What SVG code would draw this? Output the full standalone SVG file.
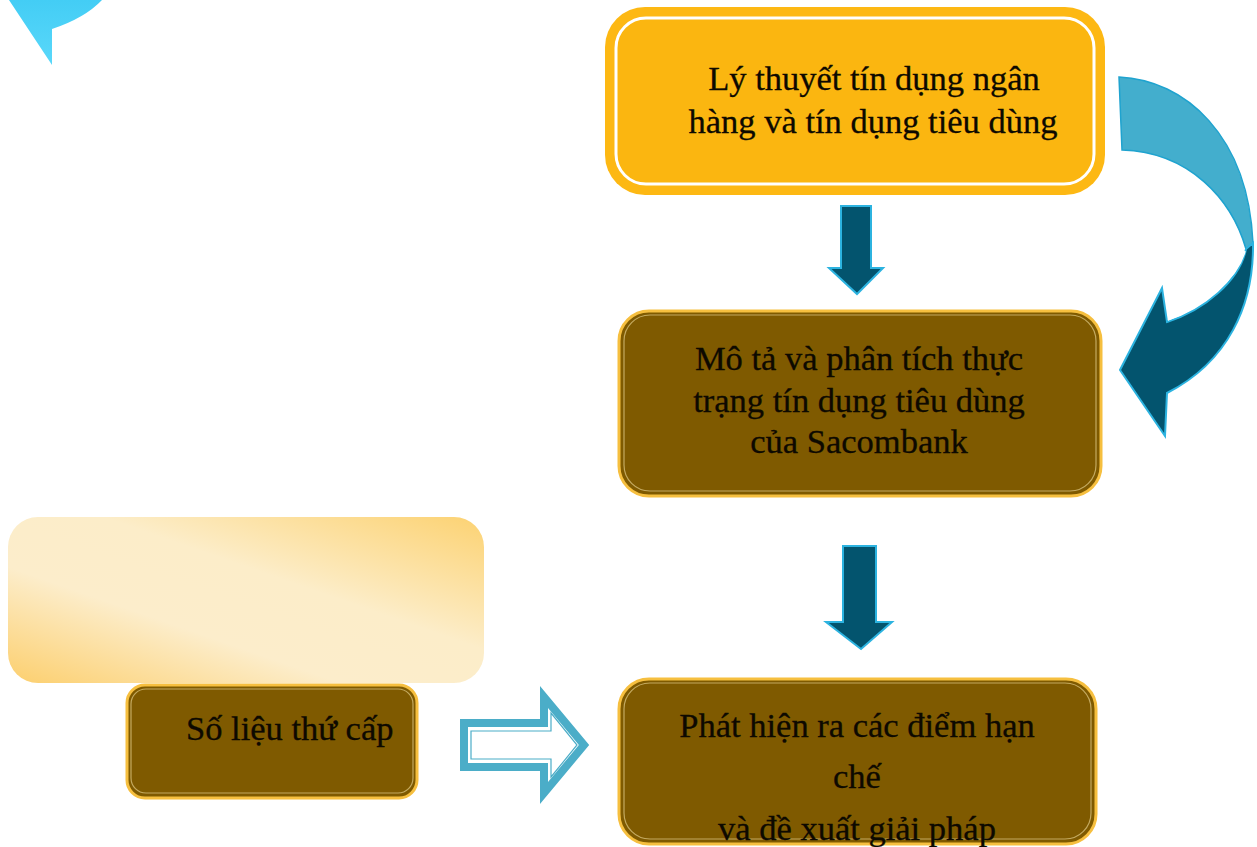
<svg xmlns="http://www.w3.org/2000/svg" width="1257" height="847" viewBox="0 0 1257 847">
<defs>
<linearGradient id="gold" x1="0" y1="1" x2="1" y2="0">
<stop offset="0" stop-color="#FCCF6E"/>
<stop offset="0.35" stop-color="#FCEDCB"/>
<stop offset="0.6" stop-color="#FCEDC9"/>
<stop offset="1" stop-color="#FCD272"/>
</linearGradient>
<linearGradient id="cyan" x1="0" y1="0" x2="0" y2="1">
<stop offset="0" stop-color="#43CDF5"/>
<stop offset="1" stop-color="#5AD8FA"/>
</linearGradient>
<style>
.t{font-family:"Liberation Serif","Times New Roman",serif;font-size:34.5px;fill:#0d0900;stroke:#0d0900;stroke-width:0.3;text-anchor:middle}
.brown{fill:#7F5A00;stroke:#F6BF3F;stroke-width:3}
.hl{fill:none;stroke:#F2DFA0;stroke-width:1.2;opacity:0.6}
.down{fill:#03546E;stroke:#2CB3E0;stroke-width:2;stroke-linejoin:miter}
</style>
</defs>
<rect width="1257" height="847" fill="#ffffff"/>
<path d="M9,0 L52,65 L52,29 Q85,18 102,0 Z" fill="url(#cyan)"/>
<g id="connectors">
<polygon class="down" points="841,206 871,206 871,268 883,268 857,294 829,268 841,268"/>
<polygon class="down" points="843,546 876,546 876,622 892,622 861,649 826,622 843,622"/>
<path d="M1119,77 C1185,80 1248,135 1253,243 L1246,249 C1232,200 1190,152 1122,150 Z" fill="#43AECD" stroke="#1FA3CF" stroke-width="1.5"/>
<path d="M1253,243 C1254,305 1228,362 1167,393 L1165,436 L1120,370 L1162,288 L1167,322 C1205,310 1240,280 1246,249 Z" fill="#03546E" stroke="#2CB3E0" stroke-width="2"/>
<path d="M1168,320 C1205,306 1238,278 1245,251" fill="none" stroke="#ffffff" stroke-width="1.5"/>
<polygon points="464,723 544,723 544,697 584,745 544,793 544,767 464,767" fill="#ffffff" stroke="#4BADC8" stroke-width="8" stroke-linejoin="miter"/>
<polygon points="471,731 551,731 551,713 577,745 551,777 551,759 471,759" fill="none" stroke="#4BADC8" stroke-width="1.2"/>
</g>
<g id="node-theory">
<rect x="605" y="7" width="500" height="188" rx="40" fill="#FDB813"/>
<rect x="616" y="18" width="478" height="166" rx="30" fill="#FBB610" stroke="#ffffff" stroke-width="3"/>
<text class="t" x="874" y="90">Lý thuyết tín dụng ngân</text>
<text class="t" x="873" y="133">hàng và tín dụng tiêu dùng</text>
</g>
<g id="node-analysis">
<rect class="brown" x="619" y="311" width="482" height="185" rx="30"/>
<rect class="hl" x="624" y="315" width="472" height="176" rx="26"/>
<text class="t" x="859" y="370">Mô tả và phân tích thực</text>
<text class="t" x="859" y="412">trạng tín dụng tiêu dùng</text>
<text class="t" x="859" y="453">của Sacombank</text>
</g>
<g id="node-gradient">
<rect x="8" y="517" width="476" height="166" rx="30" fill="url(#gold)"/>
</g>
<g id="node-secondary">
<rect class="brown" x="127" y="685" width="290" height="113" rx="18"/>
<rect class="hl" x="131" y="689" width="282" height="104" rx="15"/>
<text class="t" x="186" y="740" style="text-anchor:start">Số liệu thứ cấp</text>
</g>
<g id="node-findings">
<rect class="brown" x="619" y="679" width="477" height="165" rx="30"/>
<rect class="hl" x="624" y="683" width="467" height="156" rx="26"/>
<text class="t" x="857" y="737">Phát hiện ra các điểm hạn</text>
<text class="t" x="857" y="788">chế</text>
<text class="t" x="857" y="840">và đề xuất giải pháp</text>
</g>
</svg>
